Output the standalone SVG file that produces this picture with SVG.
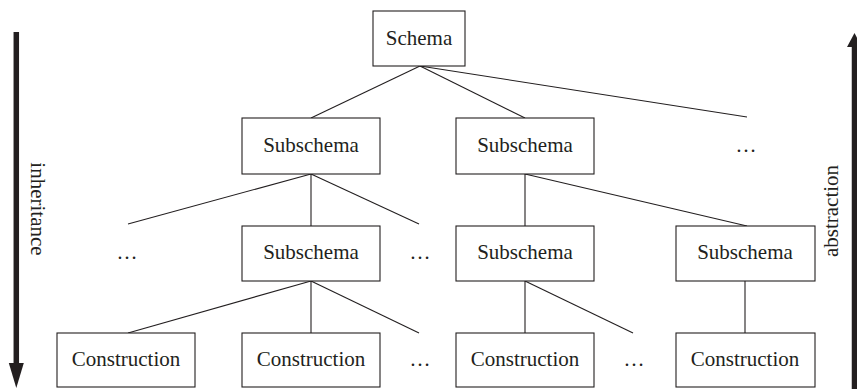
<svg xmlns="http://www.w3.org/2000/svg" width="857" height="389" viewBox="0 0 857 389">
  <style>
    .box { fill: #ffffff; stroke: #231f20; stroke-width: 1.1; }
    .lbl { font-family: "Liberation Serif", "DejaVu Serif", serif; font-size: 21px; fill: #231f20; text-anchor: middle; }
    .edge { stroke: #231f20; stroke-width: 1.1; fill: none; }
    .axis { stroke: #231f20; stroke-width: 5.5; fill: none; }
    .head { fill: #231f20; }
  </style>

  <!-- tree connectors -->
  <g id="connectors">
    <line class="edge" x1="420" y1="66" x2="311" y2="118"/>
    <line class="edge" x1="420" y1="66" x2="525" y2="118"/>
    <line class="edge" x1="420" y1="66" x2="747" y2="117"/>

    <line class="edge" x1="311" y1="174" x2="128" y2="224"/>
    <line class="edge" x1="311" y1="174" x2="311" y2="226"/>
    <line class="edge" x1="311" y1="174" x2="419" y2="224"/>

    <line class="edge" x1="525" y1="174" x2="525" y2="226"/>
    <line class="edge" x1="525" y1="174" x2="747" y2="226"/>

    <line class="edge" x1="311" y1="281" x2="128" y2="333"/>
    <line class="edge" x1="311" y1="281" x2="311" y2="333"/>
    <line class="edge" x1="311" y1="281" x2="419" y2="333"/>

    <line class="edge" x1="525" y1="281" x2="525" y2="333"/>
    <line class="edge" x1="525" y1="281" x2="633" y2="333"/>

    <line class="edge" x1="745" y1="281" x2="745" y2="333"/>
  </g>

  <!-- root -->
  <g id="schema">
    <rect class="box" x="373" y="11" width="92" height="55"/>
    <text class="lbl" x="419" y="45">Schema</text>
  </g>

  <!-- level 1 -->
  <g id="subschema-1">
    <rect class="box" x="242" y="118" width="138" height="56"/>
    <text class="lbl" x="311" y="152">Subschema</text>
  </g>
  <g id="subschema-2">
    <rect class="box" x="456" y="118" width="138" height="56"/>
    <text class="lbl" x="525" y="152">Subschema</text>
  </g>
  <g id="more-1">
    <text class="lbl" x="746" y="152">…</text>
  </g>

  <!-- level 2 -->
  <g id="more-2a">
    <text class="lbl" x="127" y="259">…</text>
  </g>
  <g id="subschema-3">
    <rect class="box" x="242" y="226" width="138" height="55"/>
    <text class="lbl" x="311" y="259">Subschema</text>
  </g>
  <g id="more-2b">
    <text class="lbl" x="420" y="259">…</text>
  </g>
  <g id="subschema-4">
    <rect class="box" x="456" y="226" width="138" height="55"/>
    <text class="lbl" x="525" y="259">Subschema</text>
  </g>
  <g id="subschema-5">
    <rect class="box" x="676" y="226" width="139" height="55"/>
    <text class="lbl" x="745" y="259">Subschema</text>
  </g>

  <!-- level 3 -->
  <g id="construction-1">
    <rect class="box" x="57" y="333" width="138" height="54"/>
    <text class="lbl" x="126" y="366">Construction</text>
  </g>
  <g id="construction-2">
    <rect class="box" x="242" y="333" width="138" height="54"/>
    <text class="lbl" x="311" y="366">Construction</text>
  </g>
  <g id="more-3a">
    <text class="lbl" x="420" y="366">…</text>
  </g>
  <g id="construction-3">
    <rect class="box" x="456" y="333" width="138" height="54"/>
    <text class="lbl" x="525" y="366">Construction</text>
  </g>
  <g id="more-3b">
    <text class="lbl" x="634" y="366">…</text>
  </g>
  <g id="construction-4">
    <rect class="box" x="676" y="333" width="139" height="54"/>
    <text class="lbl" x="745" y="366">Construction</text>
  </g>

  <!-- direction arrows -->
  <g id="inheritance-axis">
    <line class="axis" x1="16.3" y1="32" x2="16.3" y2="364"/>
    <polygon class="head" points="8.8,363 23.8,363 16.3,388"/>
    <text class="lbl" transform="translate(31,209) rotate(90)" x="0" y="0">inheritance</text>
  </g>
  <g id="abstraction-axis">
    <line class="axis" x1="854.5" y1="46" x2="854.5" y2="389"/>
    <polygon class="head" points="847,47 862,47 854.5,33"/>
    <text class="lbl" transform="translate(838,211) rotate(-90)" x="0" y="0">abstraction</text>
  </g>
</svg>
